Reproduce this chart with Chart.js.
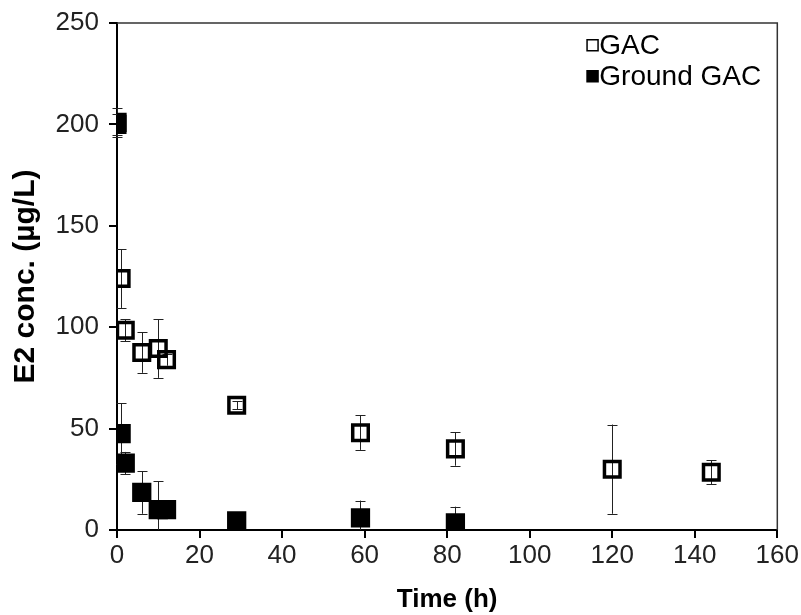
<!DOCTYPE html>
<html>
<head>
<meta charset="utf-8">
<script src="https://cdn.jsdelivr.net/npm/chart.js@4.4.1/dist/chart.umd.min.js"></script>
<style>
  html, body { margin: 0; padding: 0; background: #fff; }
  #wrap { width: 801px; height: 615px; }
</style>
</head>
<body>
<div id="wrap"><canvas id="e2Chart" width="801" height="615"></canvas></div>
<script>
// Datos
const timeGAC = [0, 1, 2, 6, 10, 12, 29, 59, 82, 120, 144];
const concGAC = [200, 124, 98.5, 87.5, 89.5, 84, 61.5, 48, 40, 30, 28.5];
const errGAC = [5, 14.5, 5.5, 10, 14.5, 3, 2, 8.5, 8.3, 22, 6];

const timeGround = [0, 1, 2, 6, 10, 12, 29, 59, 82];
const concGround = [201, 47.5, 33, 18.5, 10, 10, 4.5, 6, 3.5];
const errGround = [7, 15, 5.5, 10.5, 14, 2, 1, 8.5, 8];

const xTicks = [0, 20, 40, 60, 80, 100, 120, 140, 160];
const yTicks = [0, 50, 100, 150, 200, 250];

const labelGAC = 'GAC';
const labelGround = 'Ground GAC';

const fontFamily = '"Liberation Sans", Arial, sans-serif';

function toPoints(xs, ys, errs) {
    return xs.map((x, i) => ({ x: x, y: ys[i], err: errs[i] }));
}

// Barras de error dibujadas con las escalas del gráfico
const errorBars = {
    id: 'errorBars',
    beforeDatasetsDraw(chart) {
        const ctx = chart.ctx;
        const xs = chart.scales.x;
        const ys = chart.scales.y;
        ctx.save();
        ctx.strokeStyle = '#222';
        ctx.lineWidth = 1;
        chart.data.datasets.forEach((ds) => {
            ds.data.forEach((p) => {
                const px = Math.round(xs.getPixelForValue(p.x)) + 0.5;
                const top = ys.getPixelForValue(p.y + p.err);
                const bot = ys.getPixelForValue(Math.max(p.y - p.err, 0));
                ctx.beginPath();
                ctx.moveTo(px, top);
                ctx.lineTo(px, bot);
                ctx.moveTo(px - 5, Math.round(top) + 0.5);
                ctx.lineTo(px + 5, Math.round(top) + 0.5);
                if (p.y - p.err > 0) {
                    ctx.moveTo(px - 5, Math.round(bot) + 0.5);
                    ctx.lineTo(px + 5, Math.round(bot) + 0.5);
                }
                ctx.stroke();
            });
        });
        // marco superior y derecho del área
        const a = chart.chartArea;
        ctx.strokeStyle = '#333';
        ctx.lineWidth = 1.5;
        ctx.beginPath();
        ctx.moveTo(a.left, a.top);
        ctx.lineTo(a.right, a.top);
        ctx.lineTo(a.right, a.bottom);
        ctx.stroke();
        ctx.restore();
    }
};

// Leyenda dentro del área
const innerLegend = {
    id: 'innerLegend',
    afterDraw(chart) {
        const ctx = chart.ctx;
        const a = chart.chartArea;
        const rows = [labelGAC, labelGround];
        ctx.save();
        ctx.font = '28px ' + fontFamily;
        ctx.textBaseline = 'middle';
        ctx.fillStyle = '#000';
        rows.forEach((txt, i) => {
            const y = a.top + 22 + i * 31;
            const x = a.right - 191;
            if (i === 0) {
                ctx.strokeStyle = '#000';
                ctx.lineWidth = 1.5;
                ctx.strokeRect(x + 0.75, y - 5.25, 11, 11);
            } else {
                ctx.fillRect(x, y - 6, 12.5, 12.5);
            }
            ctx.fillText(txt, x + 13, y + 1);
        });
        ctx.restore();
    }
};

const ctx = document.getElementById('e2Chart').getContext('2d');

new Chart(ctx, {
    type: 'scatter',
    data: {
        datasets: [
            {
                label: labelGround,
                data: toPoints(timeGround, concGround, errGround),
                pointStyle: 'rect',
                pointRadius: 11.5,
                pointHoverRadius: 11.5,
                borderWidth: 3,
                borderColor: '#000',
                backgroundColor: '#000',
                order: 0
            },
            {
                label: labelGAC,
                data: toPoints(timeGAC, concGAC, errGAC),
                pointStyle: 'rect',
                pointRadius: 11,
                pointHoverRadius: 11,
                borderWidth: 3.5,
                borderColor: '#000',
                backgroundColor: 'rgba(0,0,0,0)',
                order: 1
            }
        ]
    },
    options: {
        responsive: false,
        animation: false,
        layout: { padding: { top: 16, right: 23, left: 0, bottom: 0 } },
        plugins: {
            legend: { display: false },
            tooltip: { enabled: false }
        },
        scales: {
            x: {
                type: 'linear',
                min: 0,
                max: 160,
                afterBuildTicks: (s) => { s.ticks = xTicks.map(v => ({ value: v })); },
                afterFit: (s) => { s.height = 85; },
                border: { display: true, color: '#000', width: 2 },
                grid: { display: true, drawOnChartArea: false, drawTicks: true, tickLength: 8, color: '#000', lineWidth: 2 },
                ticks: {
                    color: '#222',
                    padding: 2,
                    maxRotation: 0,
                    font: { family: fontFamily, size: 26 }
                },
                title: {
                    display: true,
                    text: 'Time (h)',
                    color: '#000',
                    padding: { top: 0, bottom: 0 },
                    font: { family: fontFamily, size: 26, weight: 'bold' }
                }
            },
            y: {
                type: 'linear',
                min: 0,
                max: 250,
                afterBuildTicks: (s) => { s.ticks = yTicks.map(v => ({ value: v })); },
                afterFit: (s) => { s.width = 117; },
                border: { display: true, color: '#000', width: 2 },
                grid: { display: true, drawOnChartArea: false, drawTicks: true, tickLength: 8, color: '#000', lineWidth: 2 },
                ticks: {
                    color: '#222',
                    padding: 10,
                    font: { family: fontFamily, size: 26, lineHeight: 1 }
                },
                title: {
                    display: true,
                    text: 'E2 conc. (µg/L)',
                    color: '#000',
                    padding: { top: 8, bottom: 0 },
                    font: { family: fontFamily, size: 30, weight: 'bold' }
                }
            }
        }
    },
    plugins: [errorBars, innerLegend]
});
</script>
</body>
</html>
